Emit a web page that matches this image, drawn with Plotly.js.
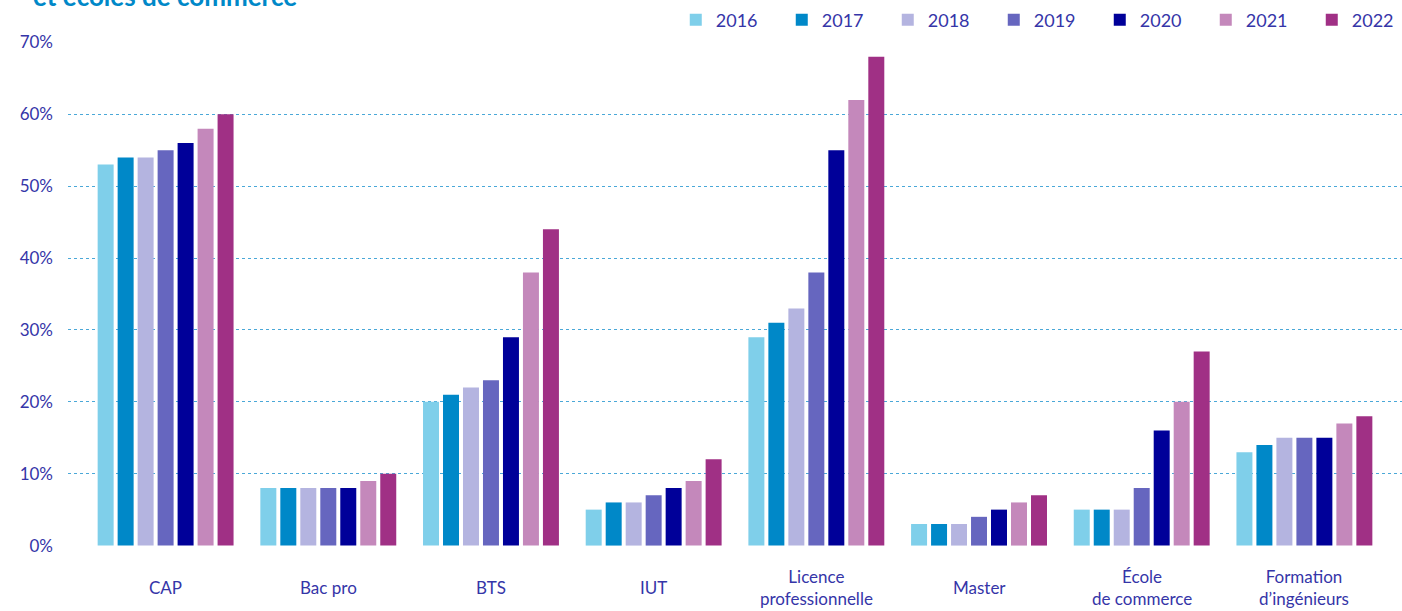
<!DOCTYPE html>
<html><head><meta charset="utf-8">
<script src="https://cdn.plot.ly/plotly-3.0.1.min.js"></script>
<style>html,body{margin:0;padding:0;background:#fff}#c{width:1402px;height:611px}</style>
</head><body><div id="c"></div>
<script>
const categories = ["CAP", "Bac pro", "BTS", "IUT", "Licence<br>professionnelle", "Master", "École<br>de commerce", "Formation<br>d’ingénieurs"];
const years = ["2016", "2017", "2018", "2019", "2020", "2021", "2022"];
const v2016 = [53, 8, 20, 5, 29, 3, 5, 13];
const v2017 = [54, 8, 21, 6, 31, 3, 5, 14];
const v2018 = [54, 8, 22, 6, 33, 3, 5, 15];
const v2019 = [55, 8, 23, 7, 38, 4, 8, 15];
const v2020 = [56, 8, 29, 8, 55, 5, 16, 15];
const v2021 = [58, 9, 38, 9, 62, 6, 20, 17];
const v2022 = [60, 10, 44, 12, 68, 7, 27, 18];
const series = [v2016, v2017, v2018, v2019, v2020, v2021, v2022];
const tickValues = [0, 10, 20, 30, 40, 50, 60, 70];
const tickLabels = ["0%", "10%", "20%", "30%", "40%", "50%", "60%", "70%"];
const colors = ["#7fcfea", "#0088c8", "#b4b4e0", "#6666bf", "#000099", "#c488bb", "#a03085"];
const titleText = "et écoles de commerce";

const txt = "#3535a8";
const font = "Lato, 'Open Sans', sans-serif";
const xidx = categories.map((c, i) => i);
const traces = series.map((s, k) => ({
  type: "bar", name: years[k], x: xidx, y: s,
  marker: {color: colors[k]}, hoverinfo: "y"
}));
const annotations = categories.map((c, i) => ({
  xref: "x", yref: "paper", x: i, y: -0.083, yanchor: "middle", xanchor: "center",
  text: c, showarrow: false, font: {family: font, size: 17, color: txt}
}));
annotations.push({
  xref: "paper", yref: "paper", x: -0.0277, xanchor: "left", y: 1.0556, yanchor: "bottom",
  text: "<b>" + titleText + "</b>", showarrow: false,
  font: {family: font, size: 26, color: "#0088c8"}
});
Plotly.newPlot("c", traces, {
  width: 1402, height: 611,
  margin: {l: 68, r: 0, t: 42, b: 65, autoexpand: false},
  paper_bgcolor: "#fff", plot_bgcolor: "#fff",
  barmode: "group", bargap: 0.14, bargroupgap: 0.2,
  font: {family: font, color: txt, size: 17},
  xaxis: {range: [-0.6, 7.6], showticklabels: false, showgrid: false, zeroline: false, ticks: ""},
  yaxis: {range: [-0.06, 70.06], tickmode: "array", tickvals: tickValues, ticktext: tickLabels,
    showgrid: true, gridcolor: "#4aa8d8", griddash: "dot", gridwidth: 1,
    zeroline: false, ticklabelstandoff: 14, tickfont: {size: 17, color: txt}},
  legend: {orientation: "h", xref: "container", yref: "container", x: 0.482, xanchor: "left",
    y: 0.967, yanchor: "middle",
    entrywidth: 61, entrywidthmode: "pixels", font: {size: 18, color: txt},
    itemclick: false, traceorder: "normal"},
  annotations: annotations,
  showlegend: true
}, {displayModeBar: false, staticPlot: true});
</script></body></html>
